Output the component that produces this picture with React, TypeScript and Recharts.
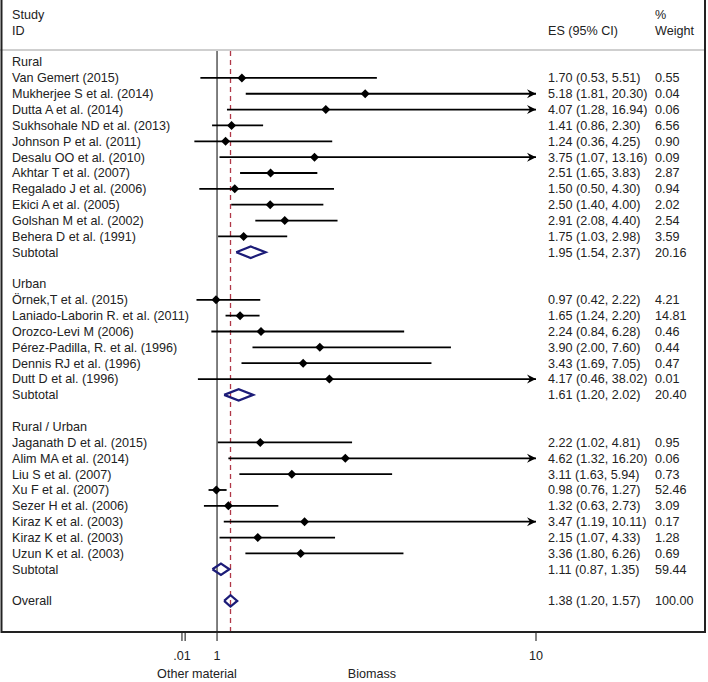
import React from 'react';
import { ComposedChart, Scatter, XAxis, YAxis, ReferenceLine, ReferenceDot } from 'recharts';

// Rural group
const ruralStudies = [
  'Van Gemert (2015)', 'Mukherjee S et al. (2014)', 'Dutta A et al. (2014)', 'Sukhsohale ND et al. (2013)',
  'Johnson P et al. (2011)', 'Desalu OO et al. (2010)', 'Akhtar T et al. (2007)', 'Regalado J et al. (2006)',
  'Ekici A et al. (2005)', 'Golshan M et al. (2002)', 'Behera D et al. (1991)',
];
const ruralES = [1.70, 5.18, 4.07, 1.41, 1.24, 3.75, 2.51, 1.50, 2.50, 2.91, 1.75];
const ruralLo = [0.53, 1.81, 1.28, 0.86, 0.36, 1.07, 1.65, 0.50, 1.40, 2.08, 1.03];
const ruralHi = [5.51, 20.30, 16.94, 2.30, 4.25, 13.16, 3.83, 4.30, 4.00, 4.40, 2.98];
const ruralW = ['0.55', '0.04', '0.06', '6.56', '0.90', '0.09', '2.87', '0.94', '2.02', '2.54', '3.59'];

// Urban group
const urbanStudies = [
  'Örnek,T et al. (2015)', 'Laniado-Laborin R. et al. (2011)', 'Orozco-Levi M (2006)',
  'Pérez-Padilla, R. et al. (1996)', 'Dennis RJ et al. (1996)', 'Dutt D et al. (1996)',
];
const urbanES = [0.97, 1.65, 2.24, 3.90, 3.43, 4.17];
const urbanLo = [0.42, 1.24, 0.84, 2.00, 1.69, 0.46];
const urbanHi = [2.22, 2.20, 6.28, 7.60, 7.05, 38.02];
const urbanW = ['4.21', '14.81', '0.46', '0.44', '0.47', '0.01'];

// Rural / Urban group
const mixedStudies = [
  'Jaganath D et al. (2015)', 'Alim MA et al. (2014)', 'Liu S et al. (2007)', 'Xu F et al. (2007)',
  'Sezer H et al. (2006)', 'Kiraz K et al. (2003)', 'Kiraz K et al. (2003)', 'Uzun K et al. (2003)',
];
const mixedES = [2.22, 4.62, 3.11, 0.98, 1.32, 3.47, 2.15, 3.36];
const mixedLo = [1.02, 1.32, 1.63, 0.76, 0.63, 1.19, 1.07, 1.80];
const mixedHi = [4.81, 16.20, 5.94, 1.27, 2.73, 10.11, 4.33, 6.26];
const mixedW = ['0.95', '0.06', '0.73', '52.46', '3.09', '0.17', '1.28', '0.69'];

// Subtotals and overall
const pooledLabels = ['Subtotal', 'Subtotal', 'Subtotal', 'Overall'];
const pooledES = [1.95, 1.61, 1.11, 1.38];
const pooledLo = [1.54, 1.20, 0.87, 1.20];
const pooledHi = [2.37, 2.02, 1.35, 1.57];
const pooledW = ['20.16', '20.40', '59.44', '100.00'];

const groupNames = ['Rural', 'Urban', 'Rural / Urban'];
const xTicks = [0.01, 0.1, 1, 10];

const XMAX = 10;
const FONT = '"Liberation Sans", Arial, sans-serif';
const FS = 12.6;

type Row = { label: string; es?: number; lo?: number; hi?: number; w?: string; kind: 'head' | 'study' | 'pooled' };

const groups = [
  { s: ruralStudies, es: ruralES, lo: ruralLo, hi: ruralHi, w: ruralW },
  { s: urbanStudies, es: urbanES, lo: urbanLo, hi: urbanHi, w: urbanW },
  { s: mixedStudies, es: mixedES, lo: mixedLo, hi: mixedHi, w: mixedW },
];

const rows: Row[] = [];
groups.forEach((g, gi) => {
  rows.push({ label: groupNames[gi], kind: 'head' });
  g.s.forEach((name, i) => rows.push({ label: name, es: g.es[i], lo: g.lo[i], hi: g.hi[i], w: g.w[i], kind: 'study' }));
  rows.push({ label: pooledLabels[gi], es: pooledES[gi], lo: pooledLo[gi], hi: pooledHi[gi], w: pooledW[gi], kind: 'pooled' });
  rows.push({ label: '', kind: 'head' });
});
rows.push({ label: pooledLabels[3], es: pooledES[3], lo: pooledLo[3], hi: pooledHi[3], w: pooledW[3], kind: 'pooled' });

const indexed = rows.map((r, i) => ({ ...r, y: i }));
const studyRows = indexed.filter((r) => r.kind === 'study');
const pooledRows = indexed.filter((r) => r.kind === 'pooled');
const pointData = studyRows.map((r) => ({ x: r.es, y: r.y }));

const fmt = (v: number) => v.toFixed(2);

const RowTick = (props: any) => {
  const { y, payload } = props;
  const r = indexed[payload.value];
  if (!r) return null;
  return (
    <g fontFamily={FONT} fontSize={FS} fill="#222">
      <text x={12} y={y} dy="0.35em">{r.label}</text>
      {r.es !== undefined && (
        <text x={548} y={y} dy="0.35em">{`${fmt(r.es)} (${fmt(r.lo!)}, ${fmt(r.hi!)})`}</text>
      )}
      {r.w && <text x={655} y={y} dy="0.35em">{r.w}</text>}
    </g>
  );
};

const PointMark = (props: any) => {
  const { cx, cy } = props;
  return <path d={`M${cx - 4.5},${cy} L${cx},${cy - 4.5} L${cx + 4.5},${cy} L${cx},${cy + 4.5} Z`} fill="#000" />;
};

const ArrowHead = (props: any) => {
  const { cx, cy } = props;
  return <path d={`M${cx},${cy} L${cx - 9},${cy - 4.5} L${cx - 6},${cy} L${cx - 9},${cy + 4.5} Z`} fill="#000" />;
};

const Empty = () => <g />;

export default function App() {
  return (
    <div style={{ position: 'absolute', left: 0, top: 0, width: 708, height: 682, background: '#fff' }}>
      <ComposedChart width={708} height={682} margin={{ top: 50, right: 172, bottom: 10, left: 0 }}>
        <XAxis
          type="number"
          dataKey="x"
          domain={[0, XMAX]}
          ticks={xTicks}
          interval={0}
          height={40}
          allowDataOverflow
          axisLine={false}
          tickLine={{ stroke: '#333', strokeWidth: 1.2 }}
          tickSize={9}
          tickMargin={10}
          tickFormatter={(v: number) => (v === 0.01 ? '.01' : v === 0.1 ? '' : String(v))}
          tick={{ fontFamily: FONT, fontSize: FS, fill: '#222' }}
        />
        <YAxis
          type="number"
          dataKey="y"
          domain={[-0.76, 35.96]}
          reversed
          width={181.6}
          ticks={indexed.map((r) => r.y)}
          interval={0}
          axisLine={false}
          tickLine={false}
          tick={<RowTick />}
        />
        <ReferenceLine x={1} stroke="#555" strokeWidth={1.5} />
        <ReferenceLine x={pooledES[3]} stroke="#b03848" strokeWidth={1.3} strokeDasharray="5 4" />
        {studyRows.map((r) => (
          <ReferenceLine
            key={`ci-${r.y}`}
            segment={[{ x: r.lo!, y: r.y }, { x: Math.min(r.hi!, XMAX), y: r.y }]}
            stroke="#000"
            strokeWidth={1.8}
          />
        ))}
        {studyRows.filter((r) => r.hi! > XMAX).map((r) => (
          <ReferenceDot key={`ar-${r.y}`} x={XMAX} y={r.y} r={1} shape={<ArrowHead />} />
        ))}
        <Scatter data={pointData} shape={<PointMark />} isAnimationActive={false} />
        {pooledRows.map((r) => (
          <Scatter
            key={`dia-${r.y}`}
            data={[
              { x: r.lo!, y: r.y },
              { x: r.es!, y: r.y - 0.36 },
              { x: r.hi!, y: r.y },
              { x: r.es!, y: r.y + 0.36 },
              { x: r.lo!, y: r.y },
            ]}
            line={{ stroke: '#1c1c78', strokeWidth: 2.2 }}
            lineType="joint"
            shape={<Empty />}
            isAnimationActive={false}
          />
        ))}
      </ComposedChart>
      <svg width={708} height={682} style={{ position: 'absolute', left: 0, top: 0, pointerEvents: 'none' }}>
        <g fontFamily={FONT} fontSize={FS} fill="#222">
          <text x={12} y={15} dy="0.35em">Study</text>
          <text x={12} y={31} dy="0.35em">ID</text>
          <text x={548} y={31} dy="0.35em">ES (95% CI)</text>
          <text x={655} y={15} dy="0.35em">%</text>
          <text x={655} y={31} dy="0.35em">Weight</text>
          <text x={197} y={674} dy="0.35em" textAnchor="middle">Other material</text>
          <text x={372} y={674} dy="0.35em" textAnchor="middle">Biomass</text>
        </g>
        <line x1={0} x2={706} y1={50} y2={50} stroke="#cfcfcf" strokeWidth={2} />
        <path d="M1.5,0 L1.5,632 L705,632 L705,0" fill="none" stroke="#222" strokeWidth={2} />
      </svg>
    </div>
  );
}
